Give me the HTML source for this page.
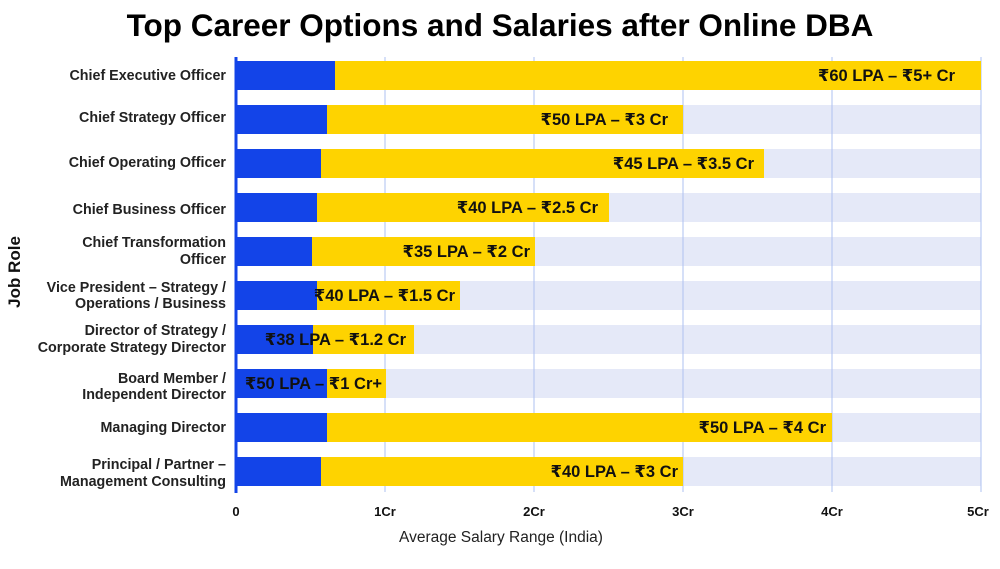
<!DOCTYPE html>
<html><head><meta charset="utf-8"><style>
html,body{margin:0;padding:0;background:#fff;}
svg{display:block;font-family:"Liberation Sans","DejaVu Sans",sans-serif;}
</style></head><body>
<svg width="1000" height="569" viewBox="0 0 1000 569">
<text x="500" y="36" text-anchor="middle" font-size="31.5" font-weight="bold" fill="#000">Top Career Options and Salaries after Online DBA</text>
<g id="bands" fill="#e5e9f8">
<rect x="236" y="61" width="745" height="29"/><rect x="236" y="105" width="745" height="29"/><rect x="236" y="149" width="745" height="29"/><rect x="236" y="193" width="745" height="29"/><rect x="236" y="237" width="745" height="29"/><rect x="236" y="281" width="745" height="29"/><rect x="236" y="325" width="745" height="29"/><rect x="236" y="369" width="745" height="29"/><rect x="236" y="413" width="745" height="29"/><rect x="236" y="457" width="745" height="29"/>
</g>
<g stroke="#aec1f0" stroke-width="1">
<line x1="385" y1="57" x2="385" y2="492"/><line x1="534" y1="57" x2="534" y2="492"/><line x1="683" y1="57" x2="683" y2="492"/><line x1="832" y1="57" x2="832" y2="492"/><line x1="981" y1="57" x2="981" y2="492"/>
</g>
<g fill="#fed300">
<rect x="236" y="61" width="745" height="29"/><rect x="236" y="105" width="447" height="29"/><rect x="236" y="149" width="528" height="29"/><rect x="236" y="193" width="373" height="29"/><rect x="236" y="237" width="299" height="29"/><rect x="236" y="281" width="224" height="29"/><rect x="236" y="325" width="178" height="29"/><rect x="236" y="369" width="150" height="29"/><rect x="236" y="413" width="596" height="29"/><rect x="236" y="457" width="447" height="29"/>
</g>
<g fill="#1344e8">
<rect x="236" y="61" width="99" height="29"/><rect x="236" y="105" width="91" height="29"/><rect x="236" y="149" width="85" height="29"/><rect x="236" y="193" width="81" height="29"/><rect x="236" y="237" width="76" height="29"/><rect x="236" y="281" width="81" height="29"/><rect x="236" y="325" width="77" height="29"/><rect x="236" y="369" width="91" height="29"/><rect x="236" y="413" width="91" height="29"/><rect x="236" y="457" width="85" height="29"/>
<rect x="234.5" y="57" width="3" height="436"/>
</g>
<g font-size="16.5" font-weight="bold" fill="#111" text-anchor="end">
<text x="955" y="81">₹60 LPA – ₹5+ Cr</text>
<text x="668" y="125">₹50 LPA – ₹3 Cr</text>
<text x="754" y="169">₹45 LPA – ₹3.5 Cr</text>
<text x="598" y="213">₹40 LPA – ₹2.5 Cr</text>
<text x="530" y="257">₹35 LPA – ₹2 Cr</text>
<text x="455" y="301">₹40 LPA – ₹1.5 Cr</text>
<text x="406" y="345">₹38 LPA – ₹1.2 Cr</text>
<text x="382" y="389">₹50 LPA – ₹1 Cr+</text>
<text x="826" y="433">₹50 LPA – ₹4 Cr</text>
<text x="678" y="477">₹40 LPA – ₹3 Cr</text>
</g>
<g font-size="14.3" font-weight="bold" fill="#222" text-anchor="end">
<text x="226" y="80">Chief Executive Officer</text>
<text x="226" y="122">Chief Strategy Officer</text>
<text x="226" y="167">Chief Operating Officer</text>
<text x="226" y="214">Chief Business Officer</text>
<text x="226" y="247">Chief Transformation</text><text x="226" y="264">Officer</text>
<text x="226" y="292">Vice President – Strategy /</text><text x="226" y="308">Operations / Business</text>
<text x="226" y="335">Director of Strategy /</text><text x="226" y="352">Corporate Strategy Director</text>
<text x="226" y="383">Board Member /</text><text x="226" y="399">Independent Director</text>
<text x="226" y="432">Managing Director</text>
<text x="226" y="469">Principal / Partner –</text><text x="226" y="486">Management Consulting</text>
</g>
<g font-size="13" font-weight="bold" fill="#111" text-anchor="middle">
<text x="236" y="516">0</text><text x="385" y="516">1Cr</text><text x="534" y="516">2Cr</text><text x="683" y="516">3Cr</text><text x="832" y="516">4Cr</text><text x="978" y="516">5Cr</text>
</g>
<text x="501" y="542" text-anchor="middle" font-size="15.5" fill="#222">Average Salary Range (India)</text>
<text transform="translate(20,272) rotate(-90)" text-anchor="middle" font-size="17" font-weight="bold" fill="#111">Job Role</text>
</svg>
</body></html>
